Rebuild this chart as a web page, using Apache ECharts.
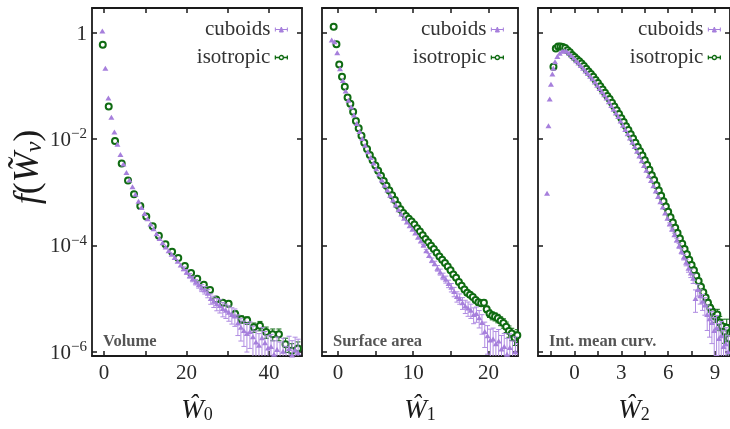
<!DOCTYPE html>
<html>
<head>
<meta charset="utf-8">
<script src="https://cdn.jsdelivr.net/npm/echarts@6/dist/echarts.min.js"></script>
<style>
  html, body { margin: 0; padding: 0; background: #ffffff; }
  #chart { width: 730px; height: 429px; }
</style>
</head>
<body>
<div id="chart"></div>
<script>
// Distributions f(W) of the normalised Minkowski functionals, cuboids vs isotropic.
// Values of f are stored as their base-10 exponents; errors are relative (sigma / f).

// ---------- Volume (W0) ----------
const volCubX = [-0.4, 0.33, 1.06, 1.79, 2.52, 3.25, 3.98, 4.71, 5.44, 6.17, 6.9, 7.63, 8.36, 9.09, 9.82, 10.55, 11.28, 12.01, 12.74, 13.47, 14.2, 14.93, 15.66, 16.39, 17.12, 17.85, 18.58, 19.31, 20.04, 20.77, 21.5, 22.23, 22.96, 23.69, 24.42, 25.15, 25.88, 26.61, 27.34, 28.07, 28.8, 29.53, 30.26, 30.99, 31.72, 32.45, 33.18, 33.91, 34.64, 35.37, 36.1, 36.83, 37.56, 38.29, 39.02, 39.75, 40.48, 41.21, 41.94, 42.67, 43.4, 44.13, 44.86, 45.59, 46.32, 47.05];
const volCubLog = [0.03, -0.67, -1.23, -1.59, -1.87, -2.10, -2.29, -2.47, -2.63, -2.77, -2.90, -3.04, -3.17, -3.29, -3.40, -3.50, -3.60, -3.69, -3.78, -3.87, -3.95, -4.03, -4.10, -4.17, -4.23, -4.30, -4.37, -4.44, -4.50, -4.57, -4.63, -4.69, -4.74, -4.80, -4.84, -4.90, -5.00, -5.05, -5.10, -5.13, -5.19, -5.22, -5.26, -5.30, -5.33, -5.46, -5.54, -5.60, -5.66, -5.62, -5.72, -5.82, -5.88, -5.74, -5.83, -5.93, -5.90, -6.05, -5.96, -6.12, -5.99, -6.20, -5.94, -6.06, -5.97, -6.02];
const volCubErr = [0, 0, 0, 0, 0, 0, 0, 0, 0, 0, 0, 0, 0, 0, 0, 0, 0, 0, 0, 0, 0, 0, 0, 0, 0, 0, 0, 0.08, 0.1, 0.1, 0.12, 0.12, 0.14, 0.15, 0.16, 0.18, 0.22, 0.24, 0.26, 0.28, 0.3, 0.3, 0.32, 0.34, 0.36, 0.42, 0.45, 0.5, 0.55, 0.52, 0.58, 0.62, 0.66, 0.56, 0.62, 0.7, 0.68, 0.8, 0.72, 1.0, 0.75, 1.0, 0.7, 0.85, 0.75, 0.8];

const volIsoX = [-0.3, 1.14, 2.67, 4.29, 5.82, 7.27, 8.8, 10.25, 11.8, 13.3, 14.9, 16.5, 18.0, 19.6, 21.1, 22.6, 24.2, 25.7, 27.2, 28.8, 30.2, 31.8, 33.3, 34.7, 36.3, 37.8, 39.3, 40.9, 42.4, 44.0, 45.5, 47.0];
const volIsoLog = [-0.23, -1.39, -2.04, -2.46, -2.78, -3.04, -3.26, -3.46, -3.64, -3.82, -3.98, -4.12, -4.24, -4.39, -4.52, -4.63, -4.74, -4.84, -5.02, -5.08, -5.10, -5.29, -5.39, -5.41, -5.54, -5.51, -5.63, -5.67, -5.67, -5.86, -5.98, -5.94];
const volIsoErr = [0, 0, 0, 0, 0, 0, 0, 0, 0, 0, 0, 0, 0, 0, 0, 0, 0.06, 0.08, 0.1, 0.1, 0.12, 0.14, 0.16, 0.16, 0.2, 0.2, 0.24, 0.25, 0.25, 0.3, 0.35, 0.33];

// ---------- Surface area (W1) ----------
const surfCubX = [-0.84, -0.47, -0.10, 0.27, 0.64, 1.01, 1.38, 1.75, 2.12, 2.49, 2.86, 3.23, 3.60, 3.97, 4.34, 4.71, 5.08, 5.45, 5.82, 6.19, 6.56, 6.93, 7.30, 7.67, 8.04, 8.41, 8.78, 9.15, 9.52, 9.89, 10.26, 10.63, 11.00, 11.37, 11.74, 12.11, 12.48, 12.85, 13.22, 13.59, 13.96, 14.33, 14.70, 15.07, 15.44, 15.81, 16.18, 16.55, 16.92, 17.29, 17.66, 18.03, 18.40, 18.77, 19.14, 19.51, 19.88, 20.25, 20.62, 20.99, 21.36, 21.73, 22.10, 22.47, 22.84, 23.21, 23.58, 23.95];
const surfCubLog = [-0.14, -0.17, -0.38, -0.68, -0.90, -1.10, -1.27, -1.40, -1.55, -1.71, -1.86, -1.99, -2.12, -2.24, -2.35, -2.45, -2.56, -2.66, -2.77, -2.87, -2.96, -3.06, -3.15, -3.24, -3.33, -3.41, -3.49, -3.56, -3.63, -3.70, -3.77, -3.85, -3.92, -4.00, -4.10, -4.19, -4.28, -4.34, -4.43, -4.50, -4.58, -4.64, -4.72, -4.79, -4.87, -4.96, -5.00, -5.08, -5.14, -5.18, -5.22, -5.30, -5.28, -5.36, -5.45, -5.62, -5.70, -5.78, -5.76, -5.85, -5.80, -5.95, -5.90, -6.05, -5.92, -6.10, -6.00, -6.15];
const surfCubErr = [0, 0, 0, 0, 0, 0, 0, 0, 0, 0, 0, 0, 0, 0, 0, 0, 0, 0, 0, 0, 0, 0, 0, 0, 0, 0, 0, 0, 0, 0, 0, 0, 0, 0.04, 0.06, 0.08, 0.1, 0.1, 0.12, 0.13, 0.14, 0.15, 0.16, 0.18, 0.2, 0.22, 0.22, 0.25, 0.28, 0.3, 0.3, 0.33, 0.32, 0.36, 0.4, 0.5, 0.55, 0.6, 0.6, 0.7, 0.65, 0.8, 0.75, 1.0, 0.8, 1.0, 0.9, 1.0];

const surfIsoX = [-0.58, -0.21, 0.16, 0.53, 0.90, 1.27, 1.64, 2.01, 2.38, 2.75, 3.12, 3.49, 3.86, 4.23, 4.60, 4.97, 5.34, 5.71, 6.08, 6.45, 6.82, 7.19, 7.56, 7.93, 8.30, 8.67, 9.04, 9.41, 9.78, 10.15, 10.52, 10.89, 11.26, 11.63, 12.00, 12.37, 12.74, 13.11, 13.48, 13.85, 14.22, 14.59, 14.96, 15.33, 15.70, 16.07, 16.44, 16.81, 17.18, 17.55, 17.92, 18.29, 18.66, 19.03, 19.40, 19.77, 20.14, 20.51, 20.88, 21.25, 21.62, 21.99, 22.36, 22.73, 23.10, 23.47, 23.84];
const surfIsoLog = [0.11, -0.22, -0.60, -0.83, -1.02, -1.22, -1.34, -1.49, -1.66, -1.80, -1.94, -2.07, -2.19, -2.30, -2.40, -2.50, -2.60, -2.69, -2.79, -2.88, -2.97, -3.06, -3.15, -3.24, -3.32, -3.39, -3.45, -3.50, -3.55, -3.61, -3.68, -3.74, -3.81, -3.88, -3.94, -4.01, -4.07, -4.14, -4.21, -4.27, -4.33, -4.40, -4.47, -4.55, -4.61, -4.69, -4.76, -4.83, -4.89, -4.93, -4.97, -5.03, -5.07, -5.09, -5.08, -5.20, -5.28, -5.32, -5.34, -5.37, -5.42, -5.46, -5.53, -5.61, -5.66, -5.74, -5.69];
const surfIsoErr = [0, 0, 0, 0, 0, 0, 0, 0, 0, 0, 0, 0, 0, 0, 0, 0, 0, 0, 0, 0, 0, 0, 0, 0, 0, 0, 0, 0, 0, 0, 0, 0, 0, 0, 0, 0, 0, 0, 0, 0, 0.04, 0.05, 0.05, 0.06, 0.06, 0.07, 0.08, 0.08, 0.09, 0.1, 0.1, 0.11, 0.12, 0.12, 0.12, 0.14, 0.16, 0.17, 0.17, 0.18, 0.19, 0.2, 0.22, 0.24, 0.26, 0.28, 0.27];

// ---------- Integral mean curvature (W2) ----------
const curvCubX = [-1.76, -1.67, -1.59, -1.51, -1.42, -1.36, -1.25, -1.10, -0.95, -0.80, -0.65, -0.50, -0.35, -0.20, -0.05, 0.10, 0.25, 0.40, 0.55, 0.70, 0.85, 1.00, 1.15, 1.30, 1.45, 1.60, 1.75, 1.90, 2.05, 2.20, 2.35, 2.50, 2.65, 2.80, 2.95, 3.10, 3.25, 3.40, 3.55, 3.70, 3.85, 4.00, 4.15, 4.30, 4.45, 4.60, 4.75, 4.90, 5.05, 5.20, 5.35, 5.50, 5.65, 5.80, 5.95, 6.10, 6.25, 6.40, 6.55, 6.70, 6.85, 7.00, 7.15, 7.30, 7.45, 7.60, 7.75, 7.90, 8.05, 8.20, 8.35, 8.50, 8.65, 8.80, 8.95, 9.10, 9.25, 9.40, 9.55, 9.70, 9.85];
const curvCubLog = [-3.02, -1.75, -1.25, -0.97, -0.78, -0.67, -0.55, -0.45, -0.39, -0.35, -0.34, -0.35, -0.39, -0.43, -0.48, -0.53, -0.57, -0.62, -0.67, -0.72, -0.77, -0.82, -0.87, -0.93, -0.99, -1.05, -1.11, -1.17, -1.23, -1.30, -1.37, -1.44, -1.51, -1.58, -1.66, -1.74, -1.82, -1.90, -1.98, -2.06, -2.14, -2.23, -2.32, -2.41, -2.50, -2.59, -2.69, -2.78, -2.88, -2.98, -3.08, -3.18, -3.28, -3.39, -3.49, -3.60, -3.70, -3.80, -3.90, -4.01, -4.11, -4.22, -4.32, -4.43, -4.52, -4.62, -5.00, -4.83, -4.95, -5.05, -5.12, -5.30, -5.38, -5.45, -5.60, -5.55, -5.75, -5.70, -5.90, -5.85, -6.00];
const curvCubErr = [0, 0, 0, 0, 0, 0, 0, 0, 0, 0, 0, 0, 0, 0, 0, 0, 0, 0, 0, 0, 0, 0, 0, 0, 0, 0, 0, 0, 0, 0, 0, 0, 0, 0, 0, 0, 0, 0, 0, 0, 0, 0, 0, 0, 0, 0, 0, 0, 0, 0, 0, 0, 0, 0, 0, 0.05, 0.06, 0.07, 0.08, 0.1, 0.11, 0.12, 0.14, 0.16, 0.18, 0.2, 0.45, 0.25, 0.3, 0.33, 0.36, 0.5, 0.55, 0.6, 0.75, 0.7, 0.9, 0.85, 1.0, 1.0, 1.0];

const curvIsoX = [-1.35, -1.20, -1.05, -0.90, -0.75, -0.60, -0.45, -0.30, -0.15, 0.00, 0.15, 0.30, 0.45, 0.60, 0.75, 0.90, 1.05, 1.20, 1.35, 1.50, 1.65, 1.80, 1.95, 2.10, 2.25, 2.40, 2.55, 2.70, 2.85, 3.00, 3.15, 3.30, 3.45, 3.60, 3.75, 3.90, 4.05, 4.20, 4.35, 4.50, 4.65, 4.80, 4.95, 5.10, 5.25, 5.40, 5.55, 5.70, 5.85, 6.00, 6.15, 6.30, 6.45, 6.60, 6.75, 6.90, 7.05, 7.20, 7.35, 7.50, 7.65, 7.80, 7.95, 8.10, 8.25, 8.40, 8.55, 8.70, 8.85, 9.00, 9.15, 9.30, 9.45, 9.60, 9.75, 9.90];
const curvIsoLog = [-0.64, -0.30, -0.26, -0.26, -0.27, -0.29, -0.33, -0.37, -0.42, -0.46, -0.50, -0.54, -0.58, -0.63, -0.68, -0.73, -0.78, -0.83, -0.89, -0.95, -1.01, -1.07, -1.13, -1.19, -1.25, -1.32, -1.39, -1.46, -1.53, -1.61, -1.68, -1.76, -1.83, -1.91, -1.99, -2.07, -2.15, -2.23, -2.31, -2.40, -2.49, -2.58, -2.68, -2.77, -2.87, -2.97, -3.07, -3.17, -3.27, -3.37, -3.47, -3.57, -3.67, -3.77, -3.87, -3.97, -4.07, -4.17, -4.27, -4.37, -4.47, -4.57, -4.67, -4.78, -4.88, -4.98, -5.08, -5.18, -5.26, -5.34, -5.30, -5.45, -5.52, -5.62, -5.55, -5.75];
const curvIsoErr = [0, 0, 0, 0, 0, 0, 0, 0, 0, 0, 0, 0, 0, 0, 0, 0, 0, 0, 0, 0, 0, 0, 0, 0, 0, 0, 0, 0, 0, 0, 0, 0, 0, 0, 0, 0, 0, 0, 0, 0, 0, 0, 0, 0, 0, 0, 0, 0, 0, 0, 0, 0, 0, 0, 0, 0, 0, 0, 0, 0, 0.06, 0.07, 0.08, 0.09, 0.1, 0.12, 0.14, 0.16, 0.18, 0.22, 0.25, 0.3, 0.35, 0.4, 0.45, 0.5];

// ---------- axes ----------
const yTickValues = [1e-6, 1e-4, 1e-2, 1];
const panelTitles = ['Volume', 'Surface area', 'Int. mean curv.'];
const panelIndexLabels = ['0', '1', '2'];
const xRanges = [[-2.91, 47.99], [-2.13, 23.93], [-2.34, 9.96]];
const xLabelValues = [[0, 20, 40], [0, 10, 20], [0, 3, 6, 9]];
const xTickValues = [[0, 10, 20, 30, 40], [0, 5, 10, 15, 20], [-1.5, 0, 1.5, 3, 4.5, 6, 7.5, 9]];
const seriesNames = ['cuboids', 'isotropic'];

const SERIF = '"Liberation Serif", "DejaVu Serif", serif';
const INK = '#1a1a1a';
const PURPLE = '#a67fdc';
const GREEN = '#0f6b12';
const Y_MIN = 8.3e-7, Y_MAX = 2.9;

const gridBoxes = [
  { left: 92, top: 8, width: 210, height: 349 },
  { left: 322, top: 8, width: 196, height: 349 },
  { left: 538, top: 8, width: 196, height: 349 }
];
const legendRight = [437, 221, 4];

const panels = [
  { cub: [volCubX, volCubLog, volCubErr], iso: [volIsoX, volIsoLog, volIsoErr] },
  { cub: [surfCubX, surfCubLog, surfCubErr], iso: [surfIsoX, surfIsoLog, surfIsoErr] },
  { cub: [curvCubX, curvCubLog, curvCubErr], iso: [curvIsoX, curvIsoLog, curvIsoErr] }
];

function toPoints(triple) {
  const [xs, logs, errs] = triple;
  return xs.map((x, i) => [x, Math.pow(10, logs[i]), errs[i]]);
}

function errorBar(params, api) {
  const r = api.value(2);
  if (!(r > 0)) return null;
  const x = api.value(0), v = api.value(1);
  const top = api.coord([x, v * (1 + r)]);
  const bot = api.coord([x, Math.max(v * (1 - r), 1e-9)]);
  const hw = 2.5;
  const style = { stroke: api.visual('color'), lineWidth: 1 };
  return {
    type: 'group',
    children: [
      { type: 'line', shape: { x1: top[0], y1: top[1], x2: bot[0], y2: bot[1] }, style },
      { type: 'line', shape: { x1: top[0] - hw, y1: top[1], x2: top[0] + hw, y2: top[1] }, style },
      { type: 'line', shape: { x1: bot[0] - hw, y1: bot[1], x2: bot[0] + hw, y2: bot[1] }, style }
    ]
  };
}

const axisLine = { show: true, onZero: false, lineStyle: { color: INK, width: 1.8 } };
const tickStyle = { inside: true, length: 5, lineStyle: { color: INK, width: 1.5 } };

const grid = [], xAxis = [], yAxis = [], series = [], legend = [], graphic = [];

gridBoxes.forEach((box, g) => {
  grid.push(Object.assign({ containLabel: false }, box));

  // bottom axis with labels, mirrored top axis with ticks only
  xAxis.push({
    type: 'value', gridIndex: g, position: 'bottom',
    min: xRanges[g][0], max: xRanges[g][1],
    axisLine, splitLine: { show: false },
    axisTick: Object.assign({ customValues: xTickValues[g] }, tickStyle),
    axisLabel: {
      customValues: xLabelValues[g], margin: 7,
      fontFamily: SERIF, fontSize: 21, color: '#2a2a2a'
    },
    name: '{w|Ŵ}{n|' + panelIndexLabels[g] + '}',
    nameLocation: 'middle', nameGap: 38,
    nameTextStyle: {
      rich: {
        w: { fontFamily: SERIF, fontStyle: 'italic', fontSize: 27, color: INK, lineHeight: 30, verticalAlign: 'bottom' },
        n: { fontFamily: SERIF, fontSize: 18, color: INK, lineHeight: 16, verticalAlign: 'bottom' }
      }
    }
  });
  xAxis.push({
    type: 'value', gridIndex: g, position: 'top',
    min: xRanges[g][0], max: xRanges[g][1],
    axisLine, splitLine: { show: false },
    axisTick: Object.assign({ customValues: xTickValues[g] }, tickStyle),
    axisLabel: { show: false }
  });

  yAxis.push({
    type: 'log', logBase: 10, gridIndex: g, position: 'left',
    min: Y_MIN, max: Y_MAX,
    axisLine, splitLine: { show: false }, minorTick: { show: false },
    axisTick: Object.assign({ customValues: yTickValues }, tickStyle),
    axisLabel: g === 0 ? {
      customValues: yTickValues, margin: 5,
      formatter: (v) => {
        const e = Math.round(Math.log10(v));
        return e === 0 ? '{b|1}' : '{b|10}{s|\u2212' + (-e) + '}';
      },
      rich: {
        b: { fontFamily: SERIF, fontSize: 21, color: '#2a2a2a', lineHeight: 24, verticalAlign: 'bottom' },
        s: { fontFamily: SERIF, fontSize: 15, color: '#2a2a2a', lineHeight: 15, verticalAlign: 'top' }
      }
    } : { show: false }
  });
  yAxis.push({
    type: 'log', logBase: 10, gridIndex: g, position: 'right',
    min: Y_MIN, max: Y_MAX,
    axisLine, splitLine: { show: false }, minorTick: { show: false },
    axisTick: Object.assign({ customValues: yTickValues }, tickStyle),
    axisLabel: { show: false }
  });

  const cub = toPoints(panels[g].cub);
  const iso = toPoints(panels[g].iso);
  const xi = 2 * g, yi = 2 * g;

  // isotropic underneath, cuboids drawn over it
  series.push({
    type: 'custom', name: 'isotropic error', xAxisIndex: xi, yAxisIndex: yi,
    renderItem: errorBar, data: iso, encode: { x: 0, y: 1 }, clip: true,
    itemStyle: { color: GREEN }, silent: true, z: 2
  });
  series.push({
    type: 'scatter', name: 'isotropic', xAxisIndex: xi, yAxisIndex: yi,
    data: iso.map(p => [p[0], p[1]]), symbol: 'emptyCircle', symbolSize: 6,
    itemStyle: { color: GREEN, borderWidth: 1.4, opacity: 1 }, clip: true, z: 3
  });
  series.push({
    type: 'custom', name: 'cuboids error', xAxisIndex: xi, yAxisIndex: yi,
    renderItem: errorBar, data: cub, encode: { x: 0, y: 1 }, clip: true,
    itemStyle: { color: '#b08ce2' }, silent: true, z: 4
  });
  series.push({
    type: 'scatter', name: 'cuboids', xAxisIndex: xi, yAxisIndex: yi,
    data: cub.map(p => [p[0], p[1]]), symbol: 'triangle', symbolSize: [6, 5],
    itemStyle: { color: PURPLE, opacity: 1 }, clip: true, z: 5
  });

  legend.push({
    orient: 'vertical', right: legendRight[g], top: 14, align: 'right',
    itemWidth: 12, itemHeight: 6, itemGap: 7, selectedMode: false,
    textStyle: { fontFamily: SERIF, fontSize: 21, color: '#333333' },
    data: [
      {
        name: seriesNames[0],
        icon: 'path://M0,2 L0,10 M0,6 L24,6 M24,2 L24,10 M8,11 L12,1 L16,11 Z',
        itemStyle: { color: PURPLE, borderColor: PURPLE, borderWidth: 1 }
      },
      {
        name: seriesNames[1],
        icon: 'path://M0,2 L0,10 M0,6 L8,6 M16,6 L24,6 M24,2 L24,10 M8,6 A4,4 0 1 1 16,6 A4,4 0 1 1 8,6 Z',
        itemStyle: { color: '#ffffff', borderColor: GREEN, borderWidth: 1.3 }
      }
    ]
  });

  graphic.push({
    type: 'text', left: box.left + 11, top: 333, silent: true,
    style: { text: panelTitles[g], font: 'bold 16.5px ' + SERIF, fill: '#555555' }
  });
});

graphic.push({
  type: 'text', x: 29, y: 167, rotation: Math.PI / 2, silent: true,
  style: {
    text: '{f|f}{p|(}{w|W\u0303}{n|\u03bd}{p|)}',
    align: 'center', verticalAlign: 'middle',
    rich: {
      f: { fontFamily: SERIF, fontStyle: 'italic', fontSize: 36, fill: INK },
      p: { fontFamily: SERIF, fontSize: 36, fill: INK },
      w: { fontFamily: SERIF, fontStyle: 'italic', fontSize: 36, fill: INK },
      n: { fontFamily: SERIF, fontStyle: 'italic', fontSize: 24, fill: INK, verticalAlign: 'bottom', lineHeight: 22 }
    }
  }
});

const chart = echarts.init(document.getElementById('chart'), null, { renderer: 'canvas' });
chart.setOption({
  animation: false,
  backgroundColor: '#ffffff',
  grid, xAxis, yAxis, series, legend, graphic
});
</script>
</body>
</html>
